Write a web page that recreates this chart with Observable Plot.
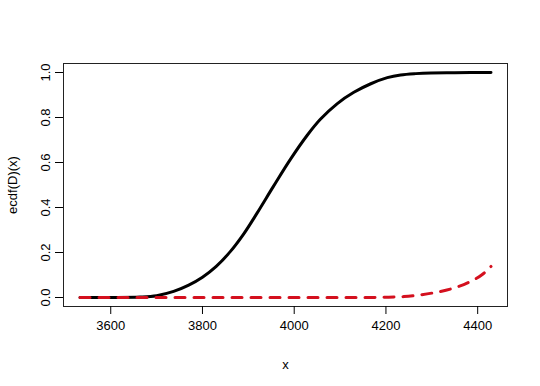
<!DOCTYPE html>
<html>
<head>
<meta charset="utf-8">
<script src="https://cdn.jsdelivr.net/npm/d3@7"></script>
<script src="https://cdn.jsdelivr.net/npm/@observablehq/plot@0.6"></script>
<style>
  html, body { margin: 0; padding: 0; background: #fff; }
</style>
</head>
<body>
<div id="chart"></div>
<script>
// Black solid curve: ecdf(D)(x)
const blackX = [3533, 3600, 3664, 3700, 3737, 3770, 3800, 3830, 3861, 3890, 3919, 3955, 3992, 4028, 4057, 4094, 4130, 4167, 4203, 4232, 4265, 4298, 4350, 4429];
const blackY = [0.000, 0.000, 0.002, 0.008, 0.027, 0.055, 0.090, 0.138, 0.205, 0.283, 0.375, 0.495, 0.615, 0.720, 0.792, 0.862, 0.912, 0.950, 0.977, 0.989, 0.995, 0.998, 0.999, 1.000];
// Red dashed curve
const redX = [3533, 3700, 3900, 4100, 4167, 4200, 4239, 4276, 4312, 4348, 4385, 4410, 4429];
const redY = [0.000, 0.000, 0.000, 0.000, 0.000, 0.001, 0.004, 0.012, 0.024, 0.042, 0.072, 0.102, 0.138];
// Axes
const xTicks = [3600, 3800, 4000, 4200, 4400];
const yTicks = [0, 0.2, 0.4, 0.6, 0.8, 1.0];
const xLabel = "x";
const yLabel = "ecdf(D)(x)";

const black = blackX.map((x, i) => ({x, y: blackY[i]}));
const red = redX.map((x, i) => ({x, y: redY[i]}));

const chart = Plot.plot({
  width: 540,
  height: 386,
  marginLeft: 63,
  marginRight: 33,
  marginTop: 63,
  marginBottom: 80,
  style: {fontFamily: "'Liberation Sans', Arial, Helvetica, sans-serif", fontSize: "13px", color: "#000", background: "#fff"},
  x: {domain: [3497, 4465]},
  y: {domain: [-0.04, 1.04]},
  marks: [
    Plot.frame({stroke: "#222", strokeWidth: 1}),
    Plot.axisX(xTicks, {tickSize: 8, tickPadding: 6, tickFormat: d => String(d), label: xLabel, labelAnchor: "center", labelOffset: 62, labelArrow: "none", fontSize: 13}),
    Plot.axisY(yTicks, {tickSize: 8, tickRotate: -90, tickPadding: 6, tickFormat: d => d.toFixed(1), label: yLabel, labelAnchor: "center", labelOffset: 56, labelArrow: "none", fontSize: 13}),
    Plot.line(black, {x: "x", y: "y", stroke: "#000", strokeWidth: 3, curve: "catmull-rom"}),
    Plot.line(red, {x: "x", y: "y", stroke: "#d4101e", strokeWidth: 3, strokeDasharray: "10,9", curve: "monotone-x"})
  ]
});
document.getElementById("chart").appendChild(chart);
</script>
</body>
</html>
